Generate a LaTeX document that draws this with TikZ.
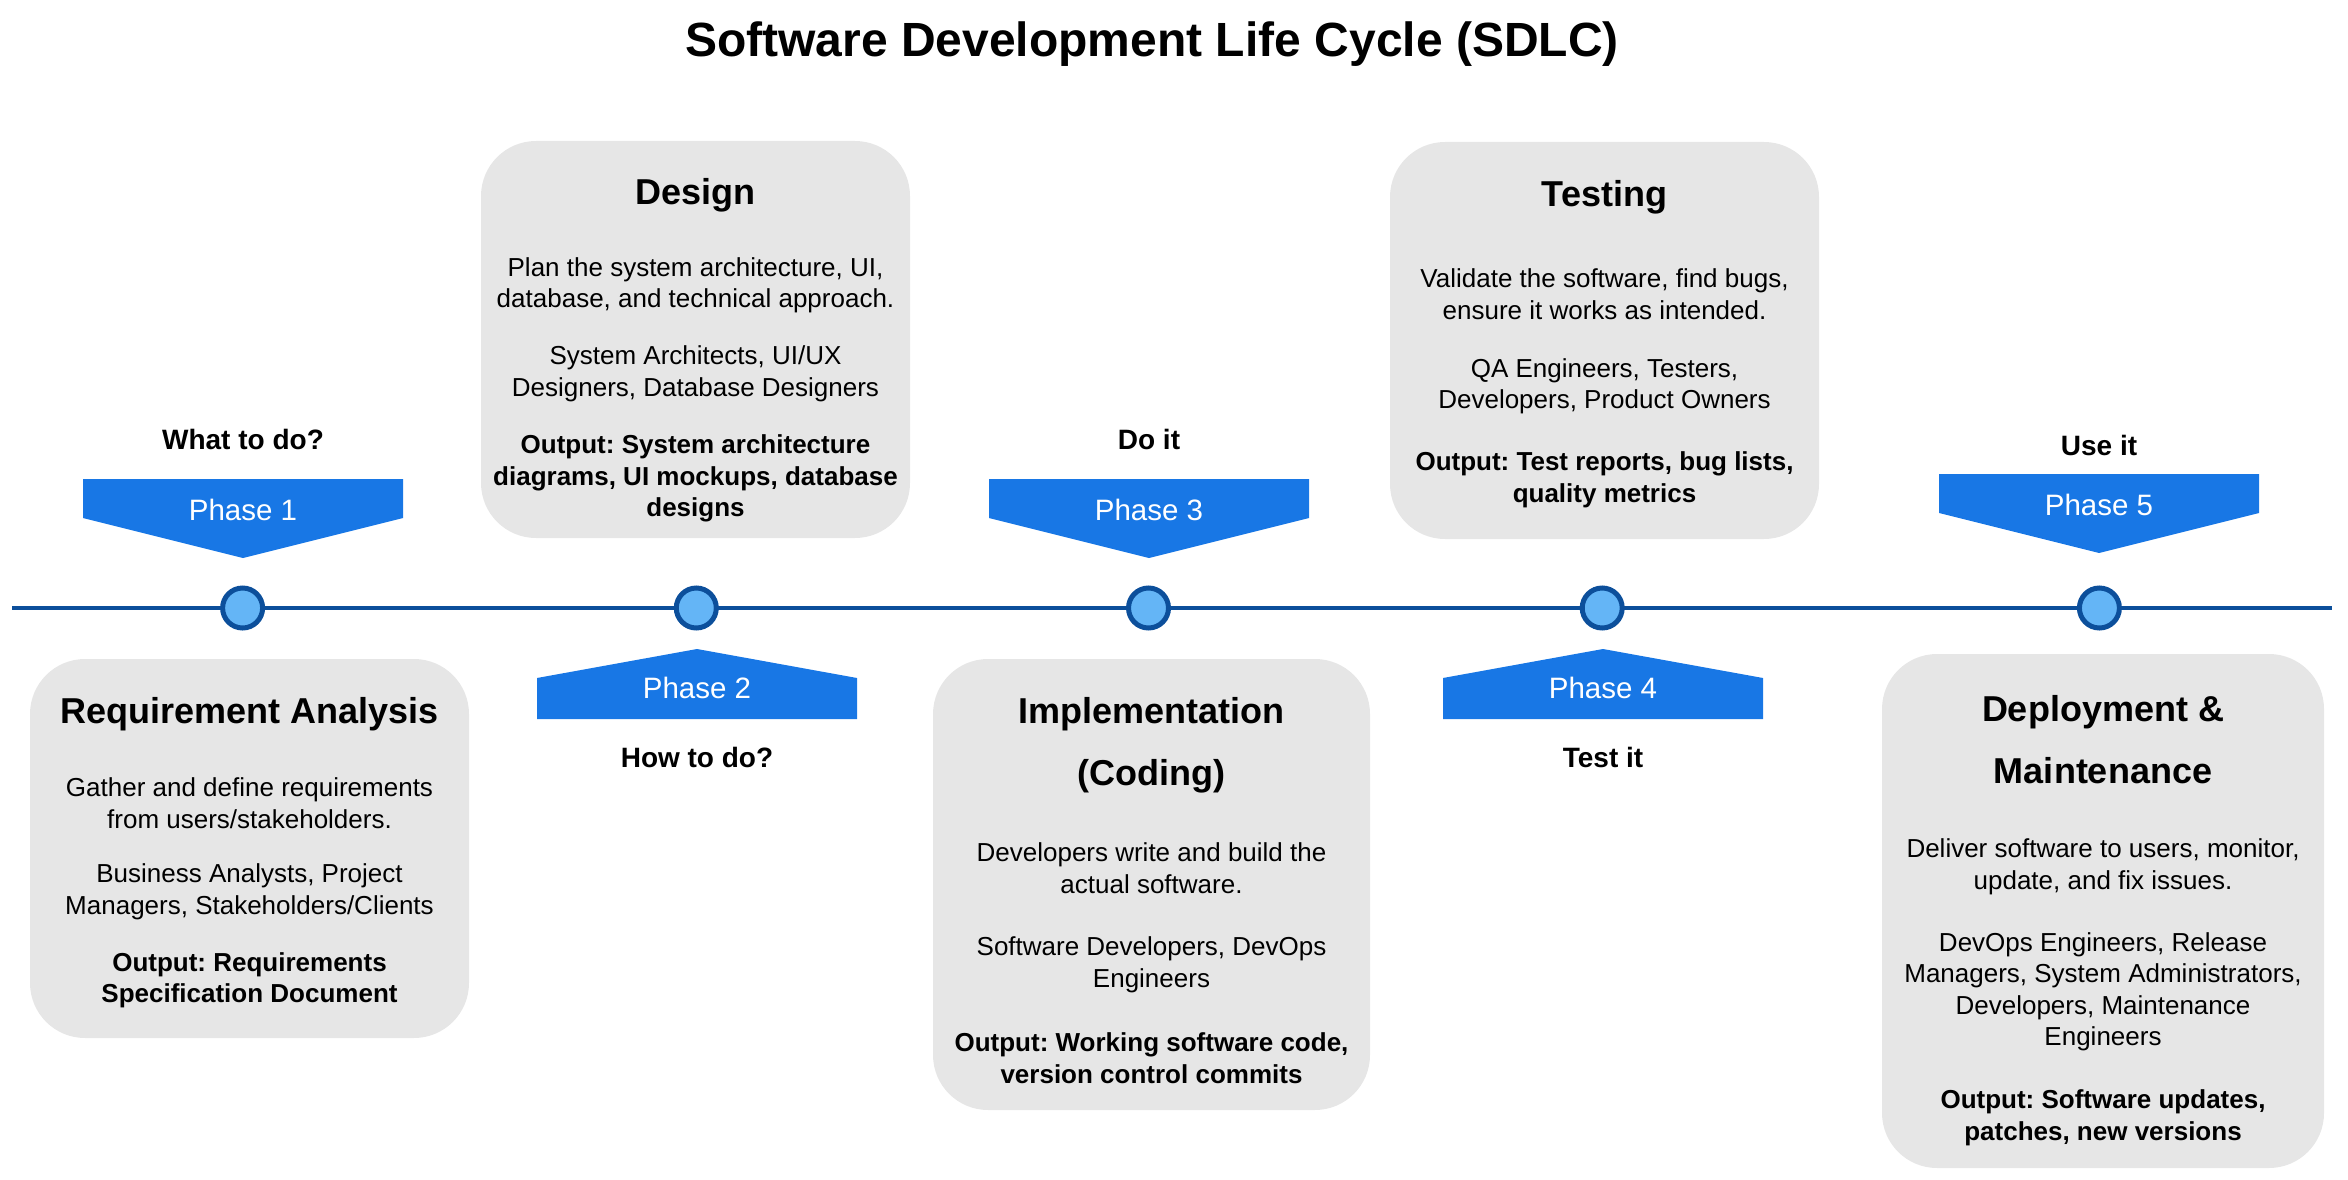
\documentclass[tikz,border=0pt]{standalone}
\usepackage{fontspec}
\setmainfont{Liberation Sans}
\definecolor{cardgray}{HTML}{E6E6E6}
\definecolor{phaseblue}{HTML}{1877E5}
\definecolor{lineblue}{HTML}{0C4F9B}
\definecolor{dotblue}{HTML}{64B5F6}

% banner pointing down to the timeline: name, centre x, top y, label
\newcommand{\phasedown}[4]{%
  \fill[banner] (#2-160,#3) -- (#2+160,#3) -- (#2+160,#3+39) -- (#2,#3+79) -- (#2-160,#3+39) -- cycle;
  \node[phaselabel] (#1) at (#2,#3+31) {#4};
}
% banner pointing up to the timeline: name, centre x, tip y, label
\newcommand{\phaseup}[4]{%
  \fill[banner] (#2,#3) -- (#2+160,#3+29) -- (#2+160,#3+70) -- (#2-160,#3+70) -- (#2-160,#3+29) -- cycle;
  \node[phaselabel] (#1) at (#2,#3+39) {#4};
}

\begin{document}
\frenchspacing
\begin{tikzpicture}[x=1pt,y=-1pt,
  card/.style={fill=cardgray, rounded corners=55pt, inner sep=0pt, outer sep=0pt},
  cardhead/.style={font=\fontsize{36}{62}\selectfont\bfseries, align=center, inner sep=0pt, yshift=-4pt},
  cardtext/.style={font=\fontsize{26}{31.5}\selectfont, align=center, inner sep=0pt, yshift=-3pt},
  cardout/.style={font=\fontsize{26}{31.5}\selectfont\bfseries, align=center, inner sep=0pt, yshift=-3pt},
  phaselabel/.style={font=\fontsize{29.5}{34}\selectfont, text=white, inner sep=0pt},
  steplabel/.style={font=\fontsize{28}{32}\selectfont\bfseries, inner sep=0pt},
  dot/.style={circle, draw=lineblue, fill=dotblue, line width=5pt, minimum size=40pt, inner sep=0pt},
  timeline/.style={draw=lineblue, line width=4pt},
  banner/.style={fill=phaseblue},
  heading/.style={font=\fontsize{48}{56}\selectfont\bfseries, inner sep=0pt, yshift=-5pt}
]
\useasboundingbox (0,0) rectangle (2348,1180);

% title
\node[heading] (title) at (1152,39) {Software Development Life Cycle (SDLC)};

% cards
\node[card, minimum width=439pt, minimum height=379pt] (card1) at (249.5,848.5) {};
\node[card, minimum width=429pt, minimum height=397pt] (card2) at (695.5,339.5) {};
\node[card, minimum width=437pt, minimum height=451pt] (card3) at (1151.5,884.5) {};
\node[card, minimum width=429pt, minimum height=397pt] (card4) at (1604.5,340.5) {};
\node[card, minimum width=442pt, minimum height=514pt] (card5) at (2103,911) {};

% timeline and phase markers
\coordinate (tlL) at (12,608);
\coordinate (tlR) at (2332,608);
\draw[timeline] (tlL) -- (tlR);
\node[dot] (dot1) at (242.6,608) {};
\node[dot] (dot2) at (696.3,608) {};
\node[dot] (dot3) at (1148.5,608) {};
\node[dot] (dot4) at (1602.2,608) {};
\node[dot] (dot5) at (2099.4,608) {};

% phase banners
\phasedown{ph1}{243}{479}{Phase 1}
\phaseup{ph2}{697}{649}{Phase 2}
\phasedown{ph3}{1149}{479}{Phase 3}
\phaseup{ph4}{1603}{649}{Phase 4}
\phasedown{ph5}{2099}{474}{Phase 5}

% short phase captions
\node[steplabel] (q1) at (243,439) {What to do?};
\node[steplabel] (q2) at (697,757) {How to do?};
\node[steplabel] (q3) at (1149,439) {Do it};
\node[steplabel] (q4) at (1603,757) {Test it};
\node[steplabel] (q5) at (2099,445) {Use it};

% card 1: requirement analysis
\node[cardhead] (h1) at (249.5,710) {Requirement Analysis};
\node[cardtext] (d1) at (249.5,800.4) {Gather and define requirements\\from users/stakeholders.};
\node[cardtext] (r1) at (249.5,888.7) {Business Analysts, Project\\Managers, Stakeholders/Clients};
\node[cardout] (o1) at (249.5,977.1) {Output: Requirements\\Specification Document};

% card 2: design
\node[cardhead] (h2) at (695.5,191.7) {Design};
\node[cardtext] (d2) at (695.5,282.3) {Plan the system architecture, UI,\\database, and technical approach.};
\node[cardtext] (r2) at (695.5,370.6) {System Architects, UI/UX\\Designers, Database Designers};
\node[cardout] (o2) at (695.5,475.4) {Output: System architecture\\diagrams, UI mockups, database\\designs};

% card 3: implementation
\node[cardhead] (h3) at (1151.5,741) {Implementation\\(Coding)};
\node[cardtext] (d3) at (1151.5,865) {Developers write and build the\\actual software.};
\node[cardtext] (r3) at (1151.5,962) {Software Developers, DevOps\\Engineers};
\node[cardout] (o3) at (1151.5,1055) {Output: Working software code,\\version control commits};

% card 4: testing
\node[cardhead] (h4) at (1604.5,193.2) {Testing};
\node[cardtext] (d4) at (1604.5,291.2) {Validate the software, find bugs,\\ensure it works as intended.};
\node[cardtext] (r4) at (1604.5,383.3) {QA Engineers, Testers,\\Developers, Product Owners};
\node[cardout] (o4) at (1604.5,476.9) {Output: Test reports, bug lists,\\quality metrics};

% card 5: deployment and maintenance
\node[cardhead] (h5) at (2103,736) {Deployment \&\\Maintenance};
\node[cardtext] (d5) at (2103,864) {Deliver software to users, monitor,\\update, and fix issues.};
\node[cardtext] (r5) at (2103,989) {DevOps Engineers, Release\\Managers, System Administrators,\\Developers, Maintenance\\Engineers};
\node[cardout] (o5) at (2103,1114.8) {Output: Software updates,\\patches, new versions};
\end{tikzpicture}
\end{document}
